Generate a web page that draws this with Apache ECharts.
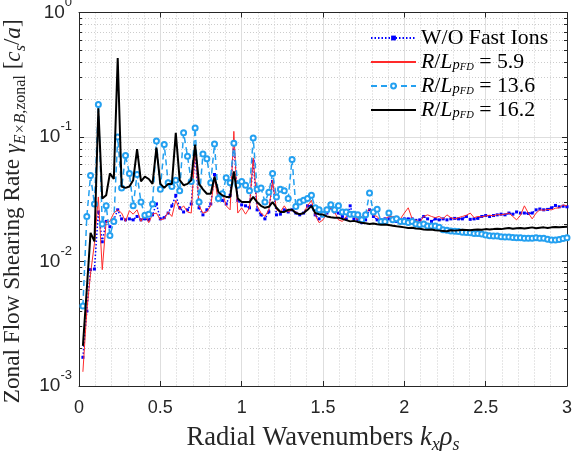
<!DOCTYPE html>
<html><head><meta charset="utf-8">
<script src="https://cdn.jsdelivr.net/npm/echarts@6/dist/echarts.min.js"></script>
<style>html,body{margin:0;padding:0;background:#fff}#c{width:572px;height:453px}</style>
</head><body><div id="c"></div>
<script>
// kx sample grid (radial wavenumbers)
const kx = [
0.024,0.048,0.071,0.095,0.119,0.143,0.167,0.190,0.214,0.238,0.262,0.286,0.310,0.333,0.357,0.381,0.405,0.429,0.452,0.476,0.500,
0.524,0.548,0.571,0.595,0.619,0.643,0.667,0.690,0.714,0.738,0.762,0.786,0.810,0.833,0.857,0.881,0.905,0.929,0.952,0.976,1.000,
1.024,1.048,1.071,1.095,1.119,1.143,1.167,1.190,1.214,1.238,1.262,1.286,1.310,1.333,1.357,1.381,1.405,1.429,1.452,1.476,1.500,
1.524,1.548,1.571,1.595,1.619,1.643,1.667,1.690,1.714,1.738,1.762,1.786,1.810,1.833,1.857,1.881,1.905,1.929,1.952,1.976,2.000,
2.024,2.048,2.071,2.095,2.119,2.143,2.167,2.190,2.214,2.238,2.262,2.286,2.310,2.333,2.357,2.381,2.405,2.429,2.452,2.476,2.500,
2.524,2.548,2.571,2.595,2.619,2.643,2.667,2.690,2.714,2.738,2.762,2.786,2.810,2.833,2.857,2.881,2.905,2.929,2.952,2.976,3.000];

// W/O Fast Ions
const gammaWO = [
0.0017,0.004,0.0086,0.0087,0.025,0.0144,0.021,0.019,0.0216,0.026,0.022,0.0216,0.022,0.0216,0.023,0.0216,0.022,0.0216,0.0237,0.029,0.022,
0.0225,0.0245,0.028,0.034,0.027,0.025,0.026,0.029,0.075,0.027,0.0237,0.026,0.029,0.050,0.032,0.031,0.029,0.034,0.090,0.031,0.0285,
0.028,0.027,0.064,0.026,0.0237,0.022,0.025,0.044,0.0237,0.024,0.026,0.025,0.026,0.0245,0.0237,0.0245,0.028,0.028,0.0237,0.022,0.0235,
0.0245,0.027,0.025,0.0245,0.023,0.022,0.028,0.022,0.0216,0.0205,0.0216,0.026,0.023,0.0216,0.0216,0.022,0.022,0.0214,0.021,0.0216,0.022,
0.022,0.022,0.0214,0.0216,0.023,0.022,0.021,0.022,0.0216,0.022,0.0216,0.022,0.0222,0.022,0.022,0.023,0.0218,0.022,0.0222,0.023,0.0234,
0.023,0.0234,0.0237,0.024,0.0237,0.0245,0.024,0.025,0.0245,0.0245,0.0243,0.0245,0.026,0.0264,0.026,0.0262,0.027,0.0282,0.0275,0.0278,0.0275];

// R/L_pFD = 5.9
const gamma59 = [
0.0013,0.004,0.008,0.014,0.033,0.0086,0.021,0.021,0.0245,0.026,0.0245,0.021,0.0256,0.024,0.026,0.021,0.024,0.0205,0.024,0.0245,0.0216,
0.022,0.025,0.023,0.031,0.026,0.028,0.025,0.0245,0.084,0.028,0.0245,0.025,0.028,0.047,0.030,0.036,0.028,0.026,0.111,0.0245,0.027,
0.024,0.027,0.068,0.028,0.0245,0.023,0.026,0.045,0.026,0.025,0.028,0.025,0.026,0.025,0.024,0.0245,0.028,0.031,0.0235,0.0205,0.0216,
0.0245,0.027,0.025,0.0216,0.021,0.023,0.025,0.023,0.0216,0.023,0.0245,0.0265,0.0235,0.023,0.021,0.022,0.023,0.023,0.023,0.022,0.0245,
0.027,0.022,0.0215,0.0206,0.023,0.0237,0.023,0.0225,0.023,0.022,0.0237,0.0225,0.022,0.0225,0.023,0.0235,0.0245,0.0225,0.023,0.0228,0.0232,
0.0235,0.0233,0.0238,0.0237,0.024,0.0245,0.023,0.0216,0.0235,0.028,0.0245,0.022,0.0245,0.026,0.0258,0.0262,0.026,0.0268,0.027,0.0285,0.028];

// R/L_pFD = 13.6
const gamma136 = [
0.0044,0.023,0.049,0.029,0.182,0.020,0.028,0.0162,0.021,0.100,0.039,0.071,0.051,0.028,0.050,0.030,0.0235,0.024,0.029,0.093,0.038,
0.087,0.043,0.040,0.045,0.037,0.108,0.070,0.044,0.118,0.030,0.073,0.067,0.043,0.088,0.032,0.035,0.047,0.043,0.089,0.041,0.044,
0.041,0.037,0.098,0.038,0.039,0.030,0.036,0.051,0.033,0.038,0.037,0.032,0.066,0.0276,0.030,0.031,0.032,0.034,0.027,0.026,0.024,
0.026,0.0285,0.026,0.028,0.025,0.025,0.024,0.024,0.0237,0.0216,0.0237,0.0355,0.025,0.0263,0.021,0.021,0.0245,0.0216,0.022,0.021,0.021,
0.0206,0.021,0.020,0.0197,0.020,0.0193,0.0193,0.0193,0.0188,0.018,0.0178,0.0176,0.0175,0.0174,0.0172,0.0171,0.017,0.0168,0.0168,0.0166,0.0163,
0.0161,0.016,0.016,0.0158,0.0157,0.0157,0.0156,0.0155,0.0155,0.0154,0.0154,0.0154,0.0155,0.0154,0.0154,0.0151,0.0149,0.0149,0.015,0.0153,0.0155];

// R/L_pFD = 16.2
const gamma162 = [
0.0021,0.006,0.017,0.0145,0.17,0.032,0.034,0.051,0.046,0.43,0.040,0.039,0.040,0.045,0.080,0.044,0.048,0.046,0.042,0.082,0.042,
0.039,0.042,0.042,0.108,0.045,0.041,0.042,0.045,0.087,0.042,0.038,0.035,0.035,0.048,0.036,0.034,0.033,0.033,0.053,0.032,0.030,
0.030,0.030,0.033,0.030,0.028,0.027,0.0275,0.030,0.027,0.025,0.025,0.026,0.026,0.0245,0.024,0.0245,0.026,0.028,0.0245,0.024,0.0238,
0.023,0.0227,0.0225,0.0225,0.022,0.0215,0.021,0.0212,0.0208,0.0205,0.0203,0.020,0.0202,0.0199,0.0197,0.0198,0.0196,0.0194,0.0192,0.019,0.0188,
0.0186,0.0187,0.0184,0.0183,0.0181,0.018,0.0181,0.0178,0.0177,0.0176,0.0175,0.0178,0.0177,0.0178,0.018,0.0179,0.0178,0.018,0.0181,0.018,0.0182,
0.0181,0.0182,0.0183,0.0182,0.0184,0.0186,0.0183,0.0185,0.0186,0.0184,0.0186,0.0188,0.0185,0.0187,0.0188,0.0186,0.0188,0.0189,0.0188,0.0189,0.019];

const seriesNames = ['W/O Fast Ions', 'R/L_pFD = 5.9', 'R/L_pFD = 13.6', 'R/L_pFD = 16.2'];
const xTickValues = [0, 0.5, 1, 1.5, 2, 2.5, 3];
const yTickValues = [0.001, 0.01, 0.1, 1];

const SANS = 'Liberation Sans, Arial, sans-serif';
const SERIF = 'Liberation Serif, Times New Roman, serif';
const AX = '#262626';

function pairs(vals) { return vals.map((v, i) => [kx[i], v]); }

const chart = echarts.init(document.getElementById('c'), null, {renderer: 'canvas', width: 572, height: 453});

const LF = 21.8;
const legendRich = {
  n: {fontFamily: SERIF, fontSize: LF, lineHeight: 22, color: '#000'},
  i: {fontFamily: SERIF, fontStyle: 'italic', fontSize: LF, lineHeight: 22, color: '#000'},
  s1: {fontFamily: SERIF, fontStyle: 'italic', fontSize: 14.5, lineHeight: 10, verticalAlign: 'bottom', color: '#000'},
  s2: {fontFamily: SERIF, fontStyle: 'italic', fontSize: 10.5, lineHeight: 5, verticalAlign: 'bottom', color: '#000'}
};

const option = {
  animation: false,
  backgroundColor: '#fff',
  textStyle: {fontFamily: SANS},
  grid: {left: 79, right: 5, top: 12.5, bottom: 67, containLabel: false, outerBoundsMode: 'none', show: false},
  legend: {
    orient: 'vertical', left: 370, top: 27, padding: 0,
    itemWidth: 45, itemHeight: 6, itemGap: 2,
    data: [
      {name: seriesNames[0]},
      {name: seriesNames[1], itemStyle: {opacity: 0}},
      {name: seriesNames[2]},
      {name: seriesNames[3], itemStyle: {opacity: 0}}
    ],
    formatter: function (name) {
      if (name === seriesNames[0]) return '{n|W/O Fast Ions}';
      return '{i|R}{n|/}{i|L}{s1|p}{s2|FD}{n| = ' + name.split('= ')[1] + '}';
    },
    textStyle: {fontFamily: SERIF, fontSize: LF, lineHeight: 22, color: '#000', rich: legendRich}
  },
  xAxis: [{
    type: 'value', min: 0, max: 3, interval: 0.5, position: 'bottom',
    axisLine: {show: true, onZero: false, lineStyle: {color: AX, width: 1}},
    axisTick: {show: true, inside: true, length: 5, lineStyle: {color: AX}},
    minorTick: {show: false, splitNumber: 5},
    axisLabel: {show: true, margin: 13, fontFamily: SANS, fontSize: 18, color: AX},
    splitLine: {show: true, lineStyle: {color: '#dedede', width: 1}},
    minorSplitLine: {show: true, lineStyle: {color: '#cccccc', width: 1, type: [1, 2]}},
    name: '{n|Radial Wavenumbers }{i|k}{sub|x}{i|ρ}{sub|s}',
    nameLocation: 'middle', nameGap: 30,
    nameTextStyle: {
      fontFamily: SERIF, fontSize: 26.5, lineHeight: 32, color: AX,
      rich: {
        n: {fontFamily: SERIF, fontSize: 26.5, lineHeight: 32, color: AX},
        i: {fontFamily: SERIF, fontStyle: 'italic', fontSize: 26.5, lineHeight: 32, color: AX},
        sub: {fontFamily: SERIF, fontStyle: 'italic', fontSize: 18, lineHeight: 15, verticalAlign: 'bottom', color: AX}
      }
    }
  }, {
    type: 'value', min: 0, max: 3, interval: 0.5, position: 'top',
    axisLine: {show: true, onZero: false, lineStyle: {color: AX, width: 1}},
    axisTick: {show: true, inside: true, length: 5, lineStyle: {color: AX}},
    axisLabel: {show: false}, splitLine: {show: false}
  }],
  yAxis: [{
    type: 'log', logBase: 10, min: 0.001, max: 1, position: 'left',
    axisLine: {show: true, onZero: false, lineStyle: {color: AX, width: 1}},
    axisTick: {show: true, inside: true, length: 5, lineStyle: {color: AX}},
    minorTick: {show: true, splitNumber: 9, length: 3, lineStyle: {color: AX}},
    axisLabel: {
      show: true, margin: 7, color: AX,
      formatter: function (v) { return '{b|10}{s|' + Math.round(Math.log10(v)) + '}'; },
      rich: {
        b: {fontFamily: SANS, fontSize: 19, lineHeight: 34, color: AX},
        s: {fontFamily: SANS, fontSize: 13, lineHeight: 13, verticalAlign: 'top', color: AX}
      }
    },
    splitLine: {show: true, lineStyle: {color: '#dedede', width: 1}},
    minorSplitLine: {show: true, lineStyle: {color: '#cccccc', width: 1, type: [1, 2]}},
    name: '{n|Zonal Flow Shearing Rate }{i|γ}{si|E×B}{su|,zonal}{n| [}{i|c}{si|s}{n|/}{i|a}{n|]}',
    nameLocation: 'middle', nameRotate: 90, nameGap: 47,
    nameTextStyle: {
      fontFamily: SERIF, fontSize: 23.2, lineHeight: 30, color: AX, padding: [0, 24, 0, 0],
      rich: {
        n: {fontFamily: SERIF, fontSize: 23.2, lineHeight: 30, color: AX},
        i: {fontFamily: SERIF, fontStyle: 'italic', fontSize: 23.2, lineHeight: 30, color: AX},
        si: {fontFamily: SERIF, fontStyle: 'italic', fontSize: 16, lineHeight: 14, verticalAlign: 'bottom', color: AX},
        su: {fontFamily: SERIF, fontSize: 16, lineHeight: 14, verticalAlign: 'bottom', color: AX}
      }
    }
  }, {
    type: 'log', logBase: 10, min: 0.001, max: 1, position: 'right',
    axisLine: {show: true, onZero: false, lineStyle: {color: AX, width: 1}},
    axisTick: {show: true, inside: true, length: 5, lineStyle: {color: AX}},
    minorTick: {show: true, splitNumber: 9, length: 3, lineStyle: {color: AX}},
    axisLabel: {show: false}, splitLine: {show: false}
  }],
  series: [
    {
      name: seriesNames[0], type: 'line', xAxisIndex: 0, yAxisIndex: 0,
      data: pairs(gammaWO), symbol: 'rect', symbolSize: 3, showSymbol: true,
      itemStyle: {color: '#0000ff'},
      lineStyle: {color: '#0000ff', width: 1.5, type: [1.5, 2]},
      emphasis: {disabled: true}, z: 2
    },
    {
      name: seriesNames[1], type: 'line', xAxisIndex: 0, yAxisIndex: 0,
      data: pairs(gamma59), symbol: 'none',
      itemStyle: {color: '#ff2a2a'},
      lineStyle: {color: '#ff2a2a', width: 1},
      emphasis: {disabled: true}, z: 3
    },
    {
      name: seriesNames[2], type: 'line', xAxisIndex: 0, yAxisIndex: 0,
      data: pairs(gamma136), symbol: 'emptyCircle', symbolSize: 5, showSymbol: true,
      itemStyle: {color: '#24a0f0', borderColor: '#24a0f0', borderWidth: 1.3},
      lineStyle: {color: '#24a0f0', width: 1.5, type: [6, 4]},
      emphasis: {disabled: true}, z: 4
    },
    {
      name: seriesNames[3], type: 'line', xAxisIndex: 0, yAxisIndex: 0,
      data: pairs(gamma162), symbol: 'none',
      itemStyle: {color: '#000000'},
      lineStyle: {color: '#000000', width: 2},
      emphasis: {disabled: true}, z: 5
    }
  ]
};
chart.setOption(option);
</script>
</body></html>
